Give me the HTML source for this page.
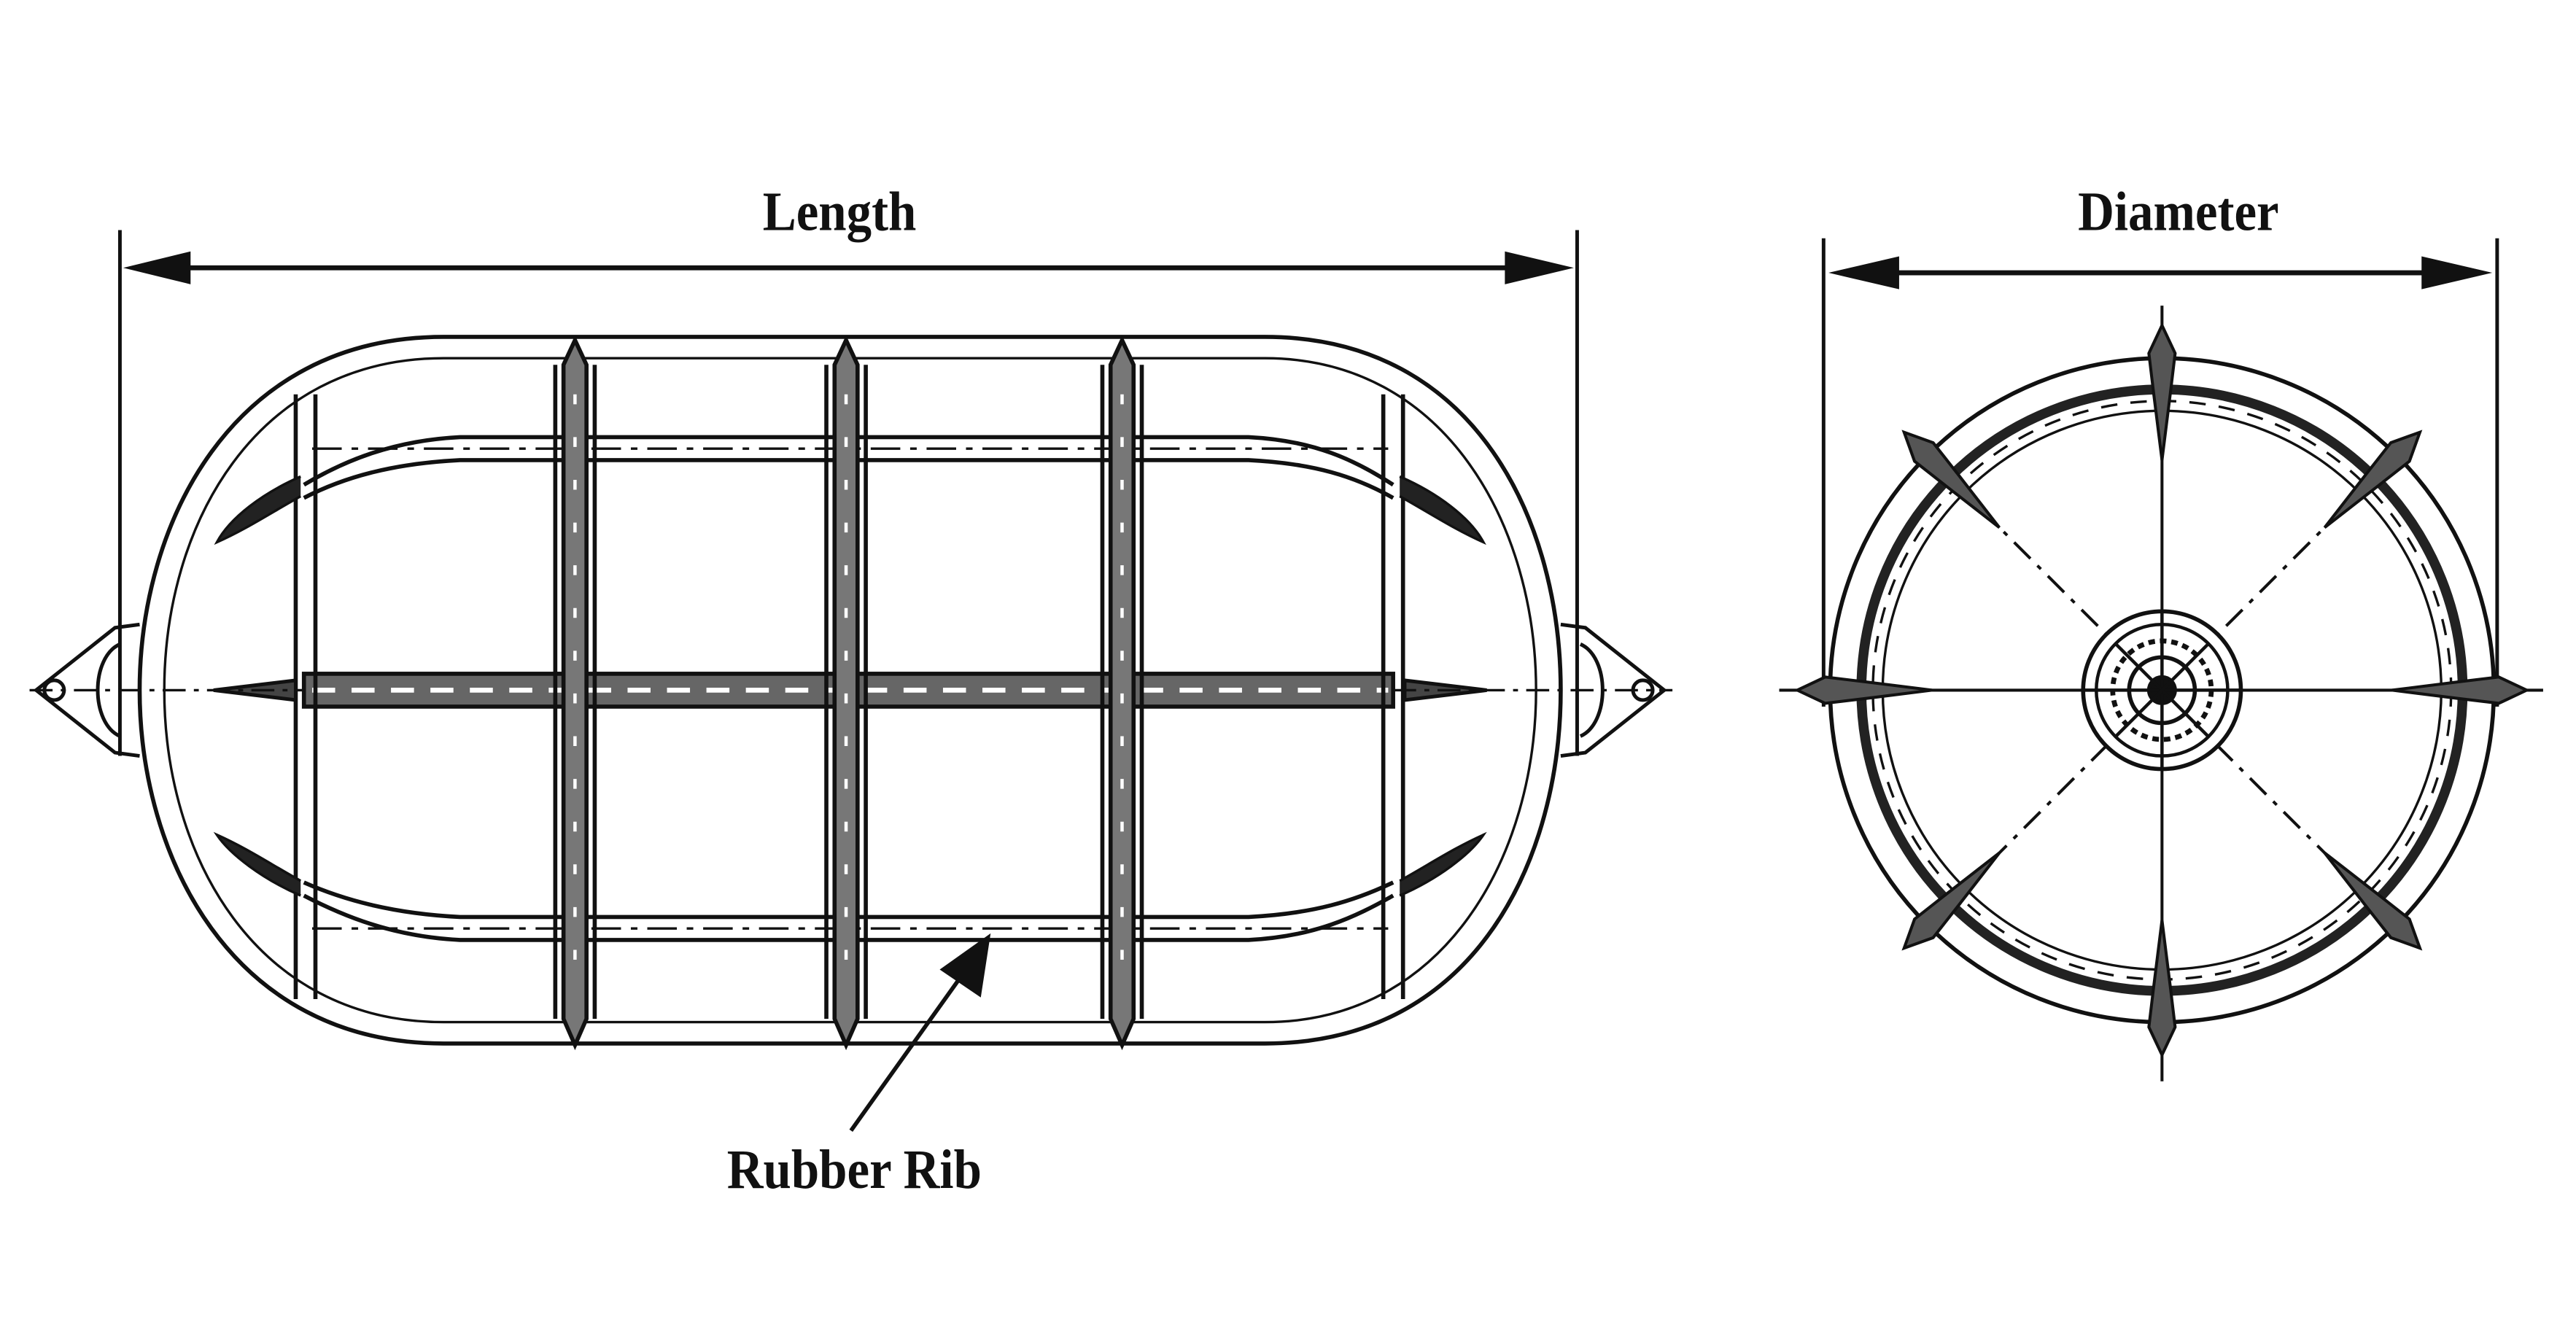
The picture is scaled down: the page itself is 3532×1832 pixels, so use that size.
<!DOCTYPE html>
<html><head><meta charset="utf-8"><style>
html,body{margin:0;padding:0;background:#fff;}
svg{display:block}
text{font-family:"Liberation Serif",serif;fill:#111}
</style></head><body>
<svg width="3532" height="1832" viewBox="0 0 1568 813" preserveAspectRatio="none" xmlns="http://www.w3.org/2000/svg">
<g stroke="#111" fill="none" stroke-width="2.2">
<line x1="73" y1="140" x2="73" y2="460"/>
<line x1="960" y1="140" x2="960" y2="460"/>
<line x1="110" y1="163" x2="918" y2="163" stroke-width="3"/>
<polygon points="75,163 116,153 116,173" fill="#111" stroke="none"/>
<polygon points="958,163 916,153 916,173" fill="#111" stroke="none"/>
<path d="M270 205 L770 205 C900 205 950 320 950 420 C950 520 900 635 770 635 L270 635 C140 635 85 520 85 420 C85 320 140 205 270 205 Z" stroke-width="2.5"/>
<path d="M270 218 L770 218 C880 218 935 320 935 420 C935 520 880 622 770 622 L270 622 C155 622 100 520 100 420 C100 320 155 218 270 218 Z" stroke-width="1.5"/>
<path d="M185 295 C210 280 240 268 280 266 L760 266 C800 268 825 280 848 295" stroke-width="2.5"/>
<path d="M185 303 C210 290 240 282 280 280 L760 280 C800 282 825 290 848 303" stroke-width="2.5"/>
<path d="M185 545 C210 558 240 570 280 572 L760 572 C800 570 825 558 848 545" stroke-width="2.5"/>
<path d="M185 537 C210 548 240 556 280 558 L760 558 C800 556 825 548 848 537" stroke-width="2.5"/>
<line x1="190" y1="273" x2="845" y2="273" stroke-dasharray="18 6 4 6" stroke-width="1.5"/>
<line x1="190" y1="565" x2="845" y2="565" stroke-dasharray="18 6 4 6" stroke-width="1.5"/>
<rect x="185" y="410" width="663" height="20" stroke-width="2.5" fill="#666"/>
<line x1="190" y1="420" x2="845" y2="420" stroke-dasharray="14 10" stroke-width="3" stroke="#fff"/>
<g stroke-width="2.5">
<path d="M180 240 L180 608 M192 240 L192 608 M842 240 L842 608 M854 240 L854 608"/>
<path d="M343 222 L350 207 L357 222 L357 620 L350 636 L343 620 Z" fill="#777"/>
<path d="M508 222 L515 207 L522 222 L522 620 L515 636 L508 620 Z" fill="#777"/>
<path d="M676 222 L683 207 L690 222 L690 620 L683 636 L676 620 Z" fill="#777"/>
<path d="M338 222 L338 620 M362 222 L362 620 M503 222 L503 620 M527 222 L527 620 M671 222 L671 620 M695 222 L695 620"/>
</g>
<g stroke="#fff" stroke-width="2" stroke-dasharray="6 20">
<line x1="350" y1="240" x2="350" y2="600"/><line x1="515" y1="240" x2="515" y2="600"/><line x1="683" y1="240" x2="683" y2="600"/>
</g>
<path d="M183 290 C160 300 140 315 132 330 C150 322 165 312 183 302" fill="#222" stroke-width="1.5"/>
<path d="M183 545 C160 535 140 520 132 508 C150 516 165 526 183 536" fill="#222" stroke-width="1.5"/>
<path d="M852 290 C875 300 895 315 903 330 C885 322 870 312 852 302" fill="#222" stroke-width="1.5"/>
<path d="M852 545 C875 535 895 520 903 508 C885 516 870 526 852 536" fill="#222" stroke-width="1.5"/>
<path d="M130 420 L180 414 L180 426 Z" fill="#444"/>
<path d="M905 420 L855 414 L855 426 Z" fill="#444"/>
<path d="M85 380 L70 382 L22 420 L70 458 L85 460" stroke-width="2.2"/>
<path d="M73 392 C55 400 55 440 73 448" />
<circle cx="33" cy="420" r="6"/>
<path d="M950 380 L965 382 L1013 420 L965 458 L950 460" stroke-width="2.2"/>
<path d="M962 392 C980 400 980 440 962 448"/>
<circle cx="1000" cy="420" r="6"/>
<line x1="18" y1="420" x2="185" y2="420" stroke-dasharray="14 5 3 5" stroke-width="1.5"/>
<line x1="848" y1="420" x2="1018" y2="420" stroke-dasharray="14 5 3 5" stroke-width="1.5"/>
<line x1="518" y1="688" x2="588" y2="590" stroke-width="2.5"/>
<polygon points="603,568 597,607 572,590" fill="#111" stroke="none"/>

<line x1="1110" y1="145" x2="1110" y2="430"/>
<line x1="1520" y1="145" x2="1520" y2="430"/>
<line x1="1150" y1="166" x2="1480" y2="166" stroke-width="3"/>
<polygon points="1113,166 1156,156 1156,176" fill="#111" stroke="none"/>
<polygon points="1517,166 1474,156 1474,176" fill="#111" stroke="none"/>
<line x1="1083" y1="420" x2="1548" y2="420" stroke-width="1.8"/>
<line x1="1316" y1="186" x2="1316" y2="658" stroke-width="1.8"/>
<circle cx="1316" cy="420" r="202" stroke-width="2.5"/>
<circle cx="1316" cy="420" r="183" stroke-width="6" stroke="#222"/>
<circle cx="1316" cy="420" r="176" stroke-width="1.5" stroke-dasharray="10 8"/>
<circle cx="1316" cy="420" r="170" stroke-width="1.5"/>
<g stroke-dasharray="14 6 3 6" stroke-width="1.8">
<line x1="1185" y1="289" x2="1447" y2="551"/>
<line x1="1447" y1="289" x2="1185" y2="551"/>
</g>
<circle cx="1316" cy="420" r="48" stroke-width="2.5" fill="#fff"/>
<circle cx="1316" cy="420" r="40" stroke-width="2"/>
<circle cx="1316" cy="420" r="30" stroke-width="3" stroke-dasharray="4 3"/>
<circle cx="1316" cy="420" r="20" stroke-width="2.5"/>
<circle cx="1316" cy="420" r="8" fill="#111"/>
<g stroke-width="2">
<line x1="1316" y1="372" x2="1316" y2="468"/><line x1="1268" y1="420" x2="1364" y2="420"/>
<line x1="1288" y1="392" x2="1344" y2="448"/><line x1="1344" y1="392" x2="1288" y2="448"/>
</g>
<g fill="#555" stroke-width="1.8">
<g transform="translate(1316 420)">
<path d="M-8 -205 L0 -222 L8 -205 L5 -180 L0 -140 L-5 -180 Z"/>
<path d="M-8 -205 L0 -222 L8 -205 L5 -180 L0 -140 L-5 -180 Z" transform="rotate(45)"/>
<path d="M-8 -205 L0 -222 L8 -205 L5 -180 L0 -140 L-5 -180 Z" transform="rotate(90)"/>
<path d="M-8 -205 L0 -222 L8 -205 L5 -180 L0 -140 L-5 -180 Z" transform="rotate(135)"/>
<path d="M-8 -205 L0 -222 L8 -205 L5 -180 L0 -140 L-5 -180 Z" transform="rotate(180)"/>
<path d="M-8 -205 L0 -222 L8 -205 L5 -180 L0 -140 L-5 -180 Z" transform="rotate(225)"/>
<path d="M-8 -205 L0 -222 L8 -205 L5 -180 L0 -140 L-5 -180 Z" transform="rotate(270)"/>
<path d="M-8 -205 L0 -222 L8 -205 L5 -180 L0 -140 L-5 -180 Z" transform="rotate(315)"/>
</g>
</g>
</g>
<g font-weight="600">
<text x="511" y="140" font-size="34" text-anchor="middle" transform="translate(511 0) scale(0.9 1) translate(-511 0)">Length</text>
<text x="1326" y="140" font-size="34" text-anchor="middle" transform="translate(1326 0) scale(0.9 1) translate(-1326 0)">Diameter</text>
<text x="520" y="723" font-size="34" text-anchor="middle" transform="translate(520 0) scale(0.9 1) translate(-520 0)">Rubber Rib</text>
</g>
</svg>
</body></html>
